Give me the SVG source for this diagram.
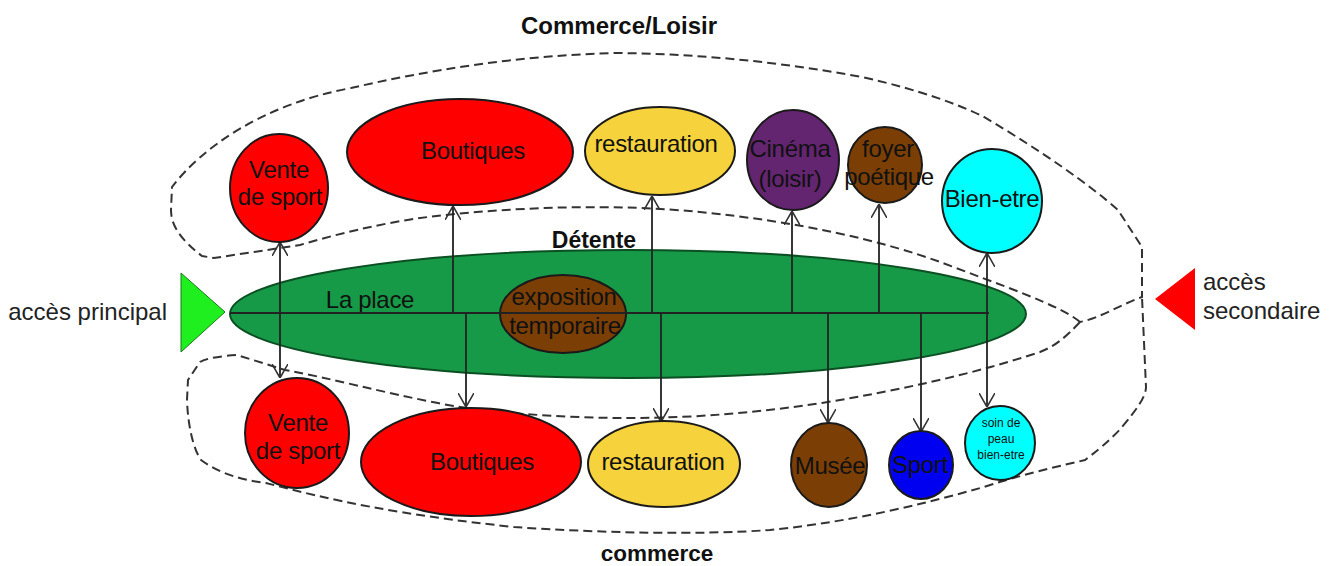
<svg xmlns="http://www.w3.org/2000/svg" width="1336" height="566" viewBox="0 0 1336 566">
<defs>
<style>
text{font-family:"Liberation Sans",Arial,sans-serif;fill:#111;text-anchor:middle}
.t{font-size:24px;letter-spacing:-0.3px}
.s{font-size:12px}
.lbl{font-weight:bold}
.acc{font-size:24px;fill:#222}
.dash{fill:none;stroke:#333;stroke-width:2;stroke-dasharray:9 5}
.node{stroke:#1a1a1a;stroke-width:2}
.red{fill:#ff0000}
.yel{fill:#f6d33c}
.pur{fill:#632470}
.brn{fill:#7b3f05}
.cyn{fill:#00ffff}
.blu{fill:#0000f0}
.con{stroke:#222;stroke-width:1.8;fill:none}
</style>
<marker id="ah" viewBox="0 0 14 16" refX="14" refY="8" markerWidth="14" markerHeight="16" markerUnits="userSpaceOnUse" orient="auto-start-reverse">
<path d="M0,0 L14,8 L0,16" fill="none" stroke="#333" stroke-width="1.6"/>
</marker>
</defs>
<rect width="1336" height="566" fill="#fff"/>

<g id="zones">
<path class="dash" d="M1080,322 C1060,305 1000,285 943,263 C880,240 800,222 700,212 C620,204 520,206 428,217 C380,223 330,236 300,245 L214,258 L202,256 C184,242 171,228 171,210 L172,187 C200,150 260,105 351,88 C430,70 520,55 619,53 C700,54 780,62 862,77 C920,90 960,105 984,117 C1040,150 1090,185 1118,210 L1142,247 L1142,297 C1120,305 1100,318 1080,322 Z"/>
<path class="dash" d="M1080,322 C1065,338 1055,346 1040,352 C970,375 900,390 822,403 C760,412 700,418 629,418 C560,418 480,412 438,403 C380,392 330,378 285,370 L237,355 C222,356 206,358 200,362 L188,380 L187,400 C188,428 194,450 201,460 C220,474 242,480 266,483 C330,500 400,515 514,527 C600,533 700,535 770,530 C850,522 920,505 984,487 C1030,472 1065,465 1085,460 C1105,445 1118,432 1122,427 C1138,408 1146,396 1146,387 L1142,297"/>
</g>

<g id="access-principal">
<polygon points="181,273 225,312 181,352" fill="#1fee1f" stroke="#1a7a1a" stroke-width="1"/>
<text class="acc" x="167" y="320" style="text-anchor:end">accès principal</text>
</g>
<g id="access-secondaire">
<polygon points="1195,268 1155,299 1195,330" fill="#ff0000"/>
<text class="acc" x="1203" y="290" style="text-anchor:start">accès</text>
<text class="acc" x="1203" y="319" style="text-anchor:start">secondaire</text>
</g>

<g id="place">
<ellipse cx="628" cy="314" rx="398" ry="64" fill="#179a47" stroke="#0b4f22" stroke-width="2"/>
<text class="t" x="370" y="308">La place</text>
</g>
<g id="exposition">
<ellipse class="node brn" cx="563" cy="314" rx="63" ry="39"/>
<text class="t" x="564" y="305">exposition</text>
<text class="t" x="565" y="334">temporaire</text>
</g>

<g id="connectors">
<path class="con" d="M230,313 H989"/>
<path class="con" d="M280,242 V378" marker-start="url(#ah)" marker-end="url(#ah)"/>
<path class="con" d="M453,313 V206" marker-end="url(#ah)"/>
<path class="con" d="M652,313 V196" marker-end="url(#ah)"/>
<path class="con" d="M792,313 V211" marker-end="url(#ah)"/>
<path class="con" d="M879,313 V204" marker-end="url(#ah)"/>
<path class="con" d="M987,253 V407" marker-start="url(#ah)" marker-end="url(#ah)"/>
<path class="con" d="M466,313 V407" marker-end="url(#ah)"/>
<path class="con" d="M661,313 V422" marker-end="url(#ah)"/>
<path class="con" d="M828,313 V423" marker-end="url(#ah)"/>
<path class="con" d="M921,313 V432" marker-end="url(#ah)"/>
</g>

<g id="vente-top">
<ellipse class="node red" cx="279" cy="188" rx="49" ry="54"/>
<text class="t" x="279" y="178">Vente</text>
<text class="t" x="280" y="205">de sport</text>
</g>
<g id="boutiques-top">
<ellipse class="node red" cx="460" cy="152" rx="113" ry="53"/>
<text class="t" x="473" y="159">Boutiques</text>
</g>
<g id="restauration-top">
<ellipse class="node yel" cx="660" cy="151" rx="75" ry="44"/>
<text class="t" x="656" y="152">restauration</text>
</g>
<g id="cinema">
<ellipse class="node pur" cx="793" cy="160" rx="46" ry="50"/>
<text class="t" x="790" y="157">Cinéma</text>
<text class="t" x="790" y="187">(loisir)</text>
</g>
<g id="foyer">
<ellipse class="node brn" cx="885" cy="165" rx="37" ry="38"/>
<text class="t" x="888" y="157">foyer</text>
<text class="t" x="889" y="185">poétique</text>
</g>
<g id="bien-etre">
<ellipse class="node cyn" cx="992" cy="201" rx="50" ry="52"/>
<text class="t" x="992" y="207">Bien-etre</text>
</g>

<g id="vente-bottom">
<ellipse class="node red" cx="297" cy="433" rx="52" ry="55"/>
<text class="t" x="298" y="431">Vente</text>
<text class="t" x="298" y="459">de sport</text>
</g>
<g id="boutiques-bottom">
<ellipse class="node red" cx="471" cy="462" rx="110" ry="54"/>
<text class="t" x="482" y="470">Boutiques</text>
</g>
<g id="restauration-bottom">
<ellipse class="node yel" cx="664" cy="464" rx="76" ry="43"/>
<text class="t" x="663" y="470">restauration</text>
</g>
<g id="musee">
<ellipse class="node brn" cx="829" cy="465" rx="38" ry="42"/>
<text class="t" x="830" y="474">Musée</text>
</g>
<g id="sport">
<ellipse class="node blu" cx="921" cy="465" rx="32" ry="34"/>
<text class="t" x="920" y="473">Sport</text>
</g>
<g id="soin">
<ellipse class="node cyn" cx="1000" cy="443" rx="35" ry="37"/>
<text class="s" x="1001" y="427">soin de</text>
<text class="s" x="1001" y="443">peau</text>
<text class="s" x="1001" y="459">bien-etre</text>
</g>

<g id="labels">
<text class="lbl" x="619" y="34" style="font-size:24px">Commerce/Loisir</text>
<text class="lbl" x="594" y="248" style="font-size:23px">Détente</text>
<text class="lbl" x="657" y="561" style="font-size:22.5px">commerce</text>
</g>
</svg>
